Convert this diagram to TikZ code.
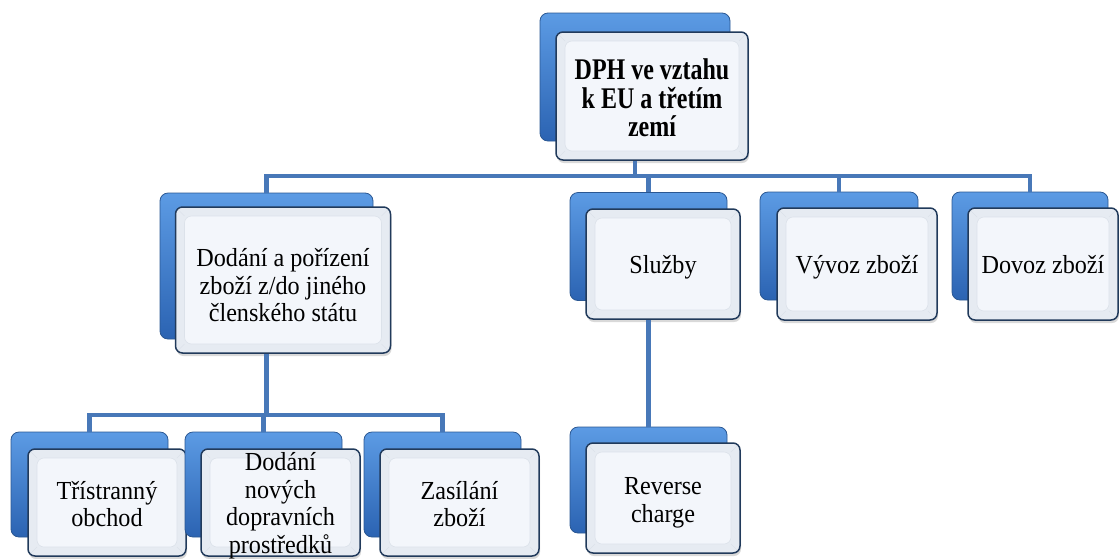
\documentclass[tikz,border=0pt]{standalone}
\usepackage{fontspec}
\setmainfont{Liberation Serif}[FakeStretch=0.93]
\newfontfamily\rootfont{Liberation Serif Bold}[FakeStretch=0.8]
\usetikzlibrary{shadows}

\definecolor{backtop}{HTML}{5C9BE4}
\definecolor{backbot}{HTML}{2B63B2}
\definecolor{backedge}{HTML}{2A5792}
\definecolor{frontfill}{HTML}{E6EBF2}
\definecolor{frontpanel}{HTML}{F3F6FB}
\definecolor{bevel}{HTML}{DCE2EA}
\definecolor{frontedge}{HTML}{213A5B}
\definecolor{linkblue}{HTML}{4878B8}

% centred block of lines, lowered a little and taking no room in the node
\newcommand\boxlines[2]{\raisebox{#1}[0pt][0pt]{\begin{tabular}{@{}c@{}}#2\end{tabular}}}

\tikzset{
  backbox/.style={rounded corners=8pt, draw=backedge, line width=0.8pt,
    top color=backtop, bottom color=backbot},
  frontbox/.style={rounded corners=7pt, draw=frontedge, line width=1.5pt,
    fill=frontfill, text=black, inner sep=0pt,
    font=\fontsize{26}{27.5}\selectfont,
    drop shadow={opacity=0.3, shadow xshift=1pt, shadow yshift=-3pt},
    path picture={
      \draw[bevel, line width=0.6pt, fill=frontpanel]
        ([xshift=9pt,yshift=-9pt]path picture bounding box.north west)
        rectangle ([xshift=-9pt,yshift=9pt]path picture bounding box.south east);
      \draw[bevel, line width=0.6pt]
        (path picture bounding box.north west) -- ++(9pt,-9pt)
        (path picture bounding box.north east) -- ++(-9pt,-9pt)
        (path picture bounding box.south west) -- ++(9pt,9pt)
        (path picture bounding box.south east) -- ++(-9pt,9pt);
    }},
  dims/.style 2 args={minimum width=#1pt, minimum height=#2pt},
  link/.style={draw=linkblue, line width=4.5pt},
}

\begin{document}
\begin{tikzpicture}[x=1pt, y=-1pt]
\useasboundingbox (0,0) rectangle (1120,558);

% root
\node[backbox, dims={190}{128}] (topb) at (635,77) {};
\node[frontbox, dims={192}{128}, font=\rootfont\fontsize{30}{25}\selectfont] (topf) at (652,96)
  {\boxlines{-12pt}{DPH ve vztahu\\k EU a třetím\\zemí}};

% second level
\node[backbox, dims={213}{146}] (dodb) at (266.5,266) {};
\node[frontbox, dims={215}{146}] (dodf) at (283,280)
  {\boxlines{-15pt}{Dodání a pořízení\\zboží z/do jiného\\členského státu}};

\node[backbox, dims={157}{108}] (slub) at (648.5,246.5) {};
\node[frontbox, dims={154}{110}] (sluf) at (663,264) {\boxlines{-10pt}{Služby}};

\node[backbox, dims={158}{108}] (vyvb) at (839,246) {};
\node[frontbox, dims={160}{112}] (vyvf) at (857,264) {\boxlines{-10pt}{Vývoz zboží}};

\node[backbox, dims={156}{108}] (dovb) at (1030,246) {};
\node[frontbox, dims={150}{112}] (dovf) at (1043,264) {\boxlines{-10pt}{Dovoz zboží}};

% third level
\node[backbox, dims={157}{105}] (trib) at (89.5,484.5) {};
\node[frontbox, dims={158}{107}] (trif) at (107,502.5)
  {\boxlines{-11pt}{Třístranný\\obchod}};

\node[backbox, dims={157}{105}] (novb) at (263.5,484.5) {};
\node[frontbox, dims={159}{107}] (novf) at (280.5,502.5)
  {\boxlines{-10pt}{Dodání\\nových\\dopravních\\prostředků}};

\node[backbox, dims={157}{105}] (zasb) at (442.5,484.5) {};
\node[frontbox, dims={159}{107}] (zasf) at (459.5,502.5)
  {\boxlines{-11pt}{Zasílání\\zboží}};

\node[backbox, dims={157}{106}] (revb) at (648.5,480) {};
\node[frontbox, dims={154}{110}] (revf) at (663,498)
  {\boxlines{-11pt}{Reverse\\charge}};

% connectors
\coordinate (bus1) at (0,176);
\coordinate (bus2) at (0,415);
\foreach \c in {dod,slu,vyv,dov}
  \draw[link] (topf.south -| topb.south) -- (topb.south |- bus1) -| (\c b.north);
\foreach \c in {tri,nov,zas}
  \draw[link] (dodf.south -| dodb.south) -- (dodb.south |- bus2) -| (\c b.north);
\draw[link] (sluf.south -| slub.south) -- (revb.north);
\end{tikzpicture}
\end{document}
